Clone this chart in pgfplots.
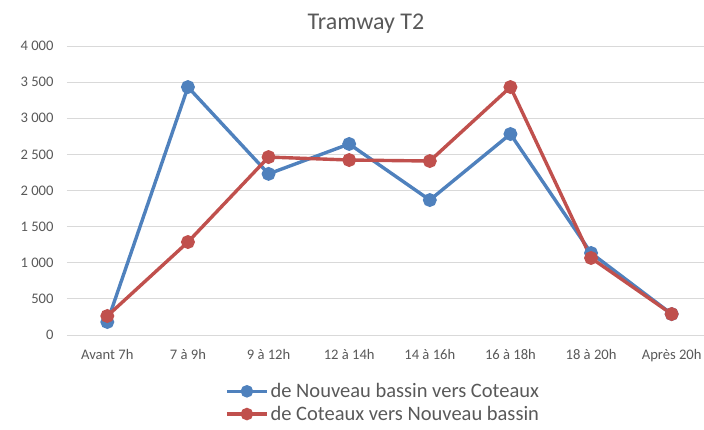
\documentclass[border=0pt]{standalone}
\usepackage{pgfplots}
\pgfplotsset{compat=1.18}
\usepackage{fontspec}
\setmainfont{Carlito}
\definecolor{cblue}{HTML}{4F81BD}
\definecolor{cred}{HTML}{C0504D}
\definecolor{ctext}{HTML}{595959}
\definecolor{cgrid}{HTML}{D9D9D9}
\begin{document}
\begin{tikzpicture}
\begin{axis}[
  at={(0pt,0pt)}, anchor=south west,
  scale only axis, width=645pt, height=289pt,
  xmin=-0.5, xmax=7.5, ymin=0, ymax=4000,
  xtick={0,...,7},
  xticklabels={Avant 7h,7 à 9h,9 à 12h,12 à 14h,14 à 16h,16 à 18h,18 à 20h,Après 20h},
  ytick={0,500,...,4000},
  /pgf/number format/.cd, 1000 sep={\ }, assume math mode=true,
  /pgfplots/.cd,
  major tick length=0pt,
  ymajorgrids, grid style={cgrid, line width=0.8pt},
  axis x line*=bottom, axis y line*=left,
  x axis line style={cgrid, line width=0.8pt, -},
  y axis line style={draw=none},
  xticklabel style={font=\fontsize{14.6}{17}\selectfont, text=ctext, yshift=-11pt},
  yticklabel style={font=\fontsize{14.6}{17}\selectfont, text=ctext, xshift=-10pt},
  title={Tramway T2},
  title style={font=\fontsize{24}{28}\selectfont, text=ctext, at={(axis description cs:0.4636,1.057)}, anchor=center},
  legend style={at={(axis description cs:0.245,-0.16)}, anchor=north west, draw=none, fill=none,
    font=\fontsize{20.5}{24}\selectfont, text=ctext, row sep=3pt, inner sep=0pt},
  legend cell align=left,
  legend image code/.code={\draw[#1, mark repeat=2, mark phase=2, mark size=4.5pt] plot coordinates {(0pt,0pt)(20pt,0pt)(40pt,0pt)};},
  clip=false,
]
\addplot[cblue, line width=3.4pt, mark=*, mark size=5.2pt, mark options={solid}] coordinates {
(0,180)(1,3432)(2,2230)(3,2644)(4,1868)(5,2782)(6,1135)(7,290)};
\addlegendentry{de Nouveau bassin vers Coteaux}
\addplot[cred, line width=3.4pt, mark=*, mark size=5.2pt, mark options={solid}] coordinates {
(0,263)(1,1287)(2,2463)(3,2422)(4,2408)(5,3432)(6,1066)(7,290)};
\addlegendentry{de Coteaux vers Nouveau bassin}
\end{axis}
\pgfresetboundingbox
\useasboundingbox (-67pt,-94pt) rectangle (637pt,335pt);
\end{tikzpicture}
\end{document}
